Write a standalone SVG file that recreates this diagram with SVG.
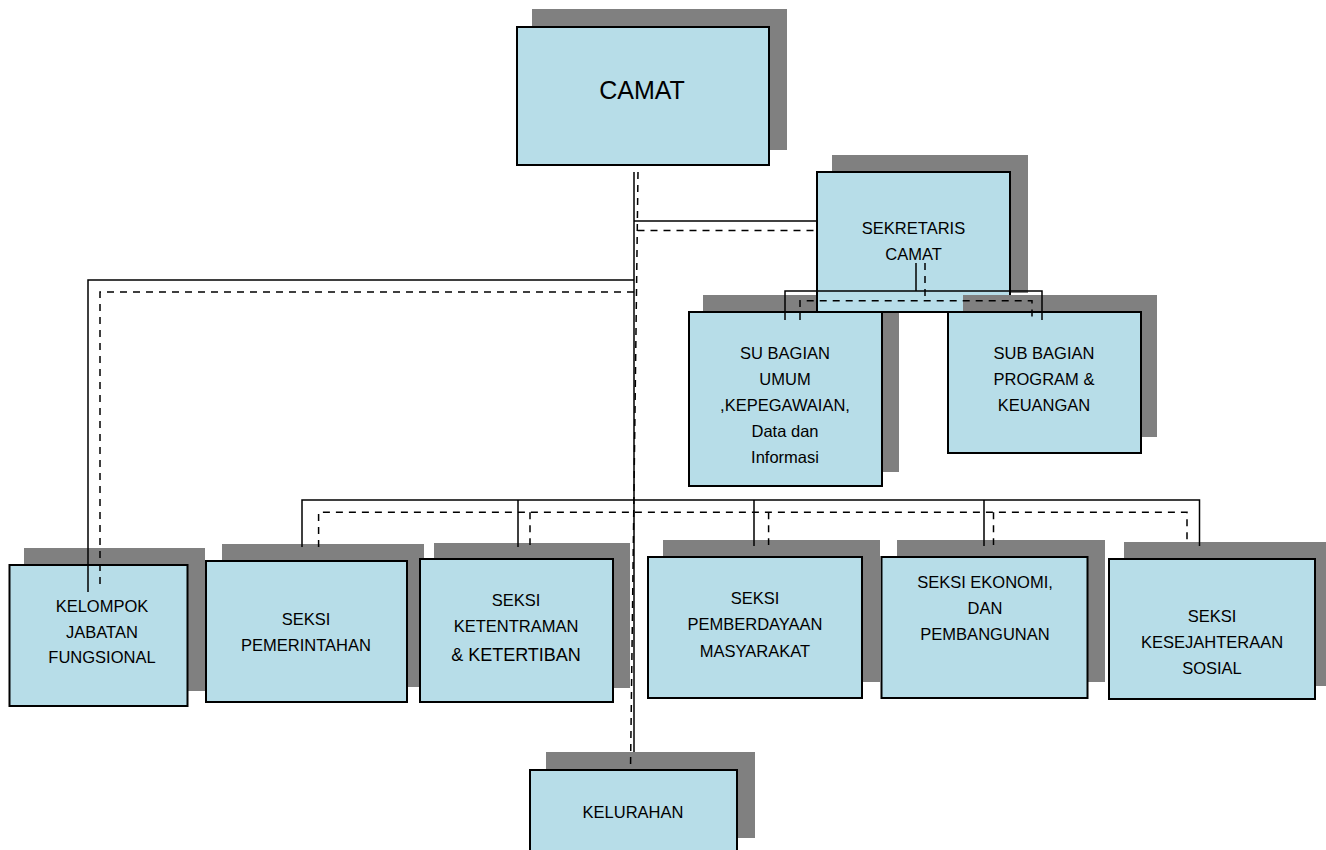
<svg xmlns="http://www.w3.org/2000/svg" width="1326" height="850" viewBox="0 0 1326 850">
<style>
.sh{fill:#808080}
.bx{fill:#b7dde8;stroke:#000;stroke-width:2}
.t{font-family:"Liberation Sans",Arial,sans-serif;font-size:16.5px;fill:#000;text-anchor:middle}
.s{stroke:#000;stroke-width:1.5;fill:none}
.d{stroke:#000;stroke-width:1.5;fill:none;stroke-dasharray:7 6}
</style>
<rect width="1326" height="850" fill="#fff"/>
<g id="camat">
<rect class="sh" x="532" y="9" width="255" height="141"/>
<rect class="bx" x="517" y="27" width="252" height="138"/>
<text class="t" x="642" y="99" style="font-size:25px">CAMAT</text>
</g>
<g id="su-bagian-umum">
<rect class="sh" x="703" y="295" width="196" height="177"/>
<rect class="bx" x="689" y="312" width="193" height="174"/>
<text class="t" x="785" y="359">SU BAGIAN</text>
<text class="t" x="785" y="385">UMUM</text>
<text class="t" x="785" y="411">,KEPEGAWAIAN,</text>
<text class="t" x="785" y="437">Data dan</text>
<text class="t" x="785" y="463">Informasi</text>
</g>
<g id="sekretaris-camat">
<rect class="sh" x="832" y="155" width="196" height="138"/>
<rect class="bx" x="817" y="172" width="193" height="140"/>
<text class="t" x="913.5" y="234">SEKRETARIS</text>
<text class="t" x="913.5" y="260">CAMAT</text>
</g>
<g id="sub-bagian-program">
<rect class="sh" x="963" y="295" width="194" height="142"/>
<rect class="bx" x="948" y="312" width="193" height="141"/>
<text class="t" x="1044" y="359">SUB BAGIAN</text>
<text class="t" x="1044" y="385">PROGRAM &amp;</text>
<text class="t" x="1044" y="411">KEUANGAN</text>
</g>
<g id="kelompok-jabatan">
<rect class="sh" x="24" y="548" width="181" height="143"/>
<rect class="bx" x="9.5" y="565" width="178" height="141"/>
<text class="t" x="102" y="612">KELOMPOK</text>
<text class="t" x="102" y="638">JABATAN</text>
<text class="t" x="102" y="663">FUNGSIONAL</text>
</g>
<g id="seksi-pemerintahan">
<rect class="sh" x="222" y="544" width="202" height="143"/>
<rect class="bx" x="206" y="561" width="201" height="141"/>
<text class="t" x="306" y="625">SEKSI</text>
<text class="t" x="306" y="651">PEMERINTAHAN</text>
</g>
<g id="seksi-ketentraman">
<rect class="sh" x="434" y="543" width="196" height="145"/>
<rect class="bx" x="420" y="559" width="193" height="143"/>
<text class="t" x="516" y="606">SEKSI</text>
<text class="t" x="516" y="632">KETENTRAMAN</text>
<text class="t" x="516" y="661" style="font-size:18px">&amp; KETERTIBAN</text>
</g>
<g id="seksi-pemberdayaan">
<rect class="sh" x="663" y="540" width="217" height="142"/>
<rect class="bx" x="648" y="557" width="214" height="141"/>
<text class="t" x="755" y="604">SEKSI</text>
<text class="t" x="755" y="630">PEMBERDAYAAN</text>
<text class="t" x="755" y="657">MASYARAKAT</text>
</g>
<g id="seksi-ekonomi">
<rect class="sh" x="897" y="540" width="208" height="142"/>
<rect class="bx" x="881.5" y="557" width="206" height="141"/>
<text class="t" x="985" y="588">SEKSI EKONOMI,</text>
<text class="t" x="985" y="614">DAN</text>
<text class="t" x="985" y="640">PEMBANGUNAN</text>
</g>
<g id="seksi-kesejahteraan">
<rect class="sh" x="1124" y="542" width="202" height="144"/>
<rect class="bx" x="1109" y="559" width="206" height="140"/>
<text class="t" x="1212" y="622">SEKSI</text>
<text class="t" x="1212" y="648">KESEJAHTERAAN</text>
<text class="t" x="1212" y="674">SOSIAL</text>
</g>
<g id="kelurahan">
<rect class="sh" x="546" y="752" width="209" height="86"/>
<rect class="bx" x="530" y="770" width="207" height="100"/>
<text class="t" x="633" y="818">KELURAHAN</text>
</g>
<g id="connectors">
<path class="s" d="M634 172V752"/>
<path class="s" d="M634 221H817"/>
<path class="s" d="M634 280H88V592"/>
<path class="s" d="M916 263V291"/>
<path class="s" d="M785 320V291H1042V320"/>
<path class="s" d="M302 547V500H1199.5V546"/>
<path class="s" d="M518 500V547M754 500V546M984 500V546"/>
<path class="d" d="M638 172L630.5 770"/>
<path class="d" d="M637.5 230.5H817"/>
<path class="d" d="M634 292H100V588"/>
<path class="d" d="M925 263V300.7"/>
<path class="d" d="M800 320V300.7H1032V320"/>
<path class="d" d="M318.6 547V512.3H1187V545"/>
<path class="d" d="M530 512.3V545M768.6 512.3V545M993.5 512.3V545"/>
</g>
</svg>
